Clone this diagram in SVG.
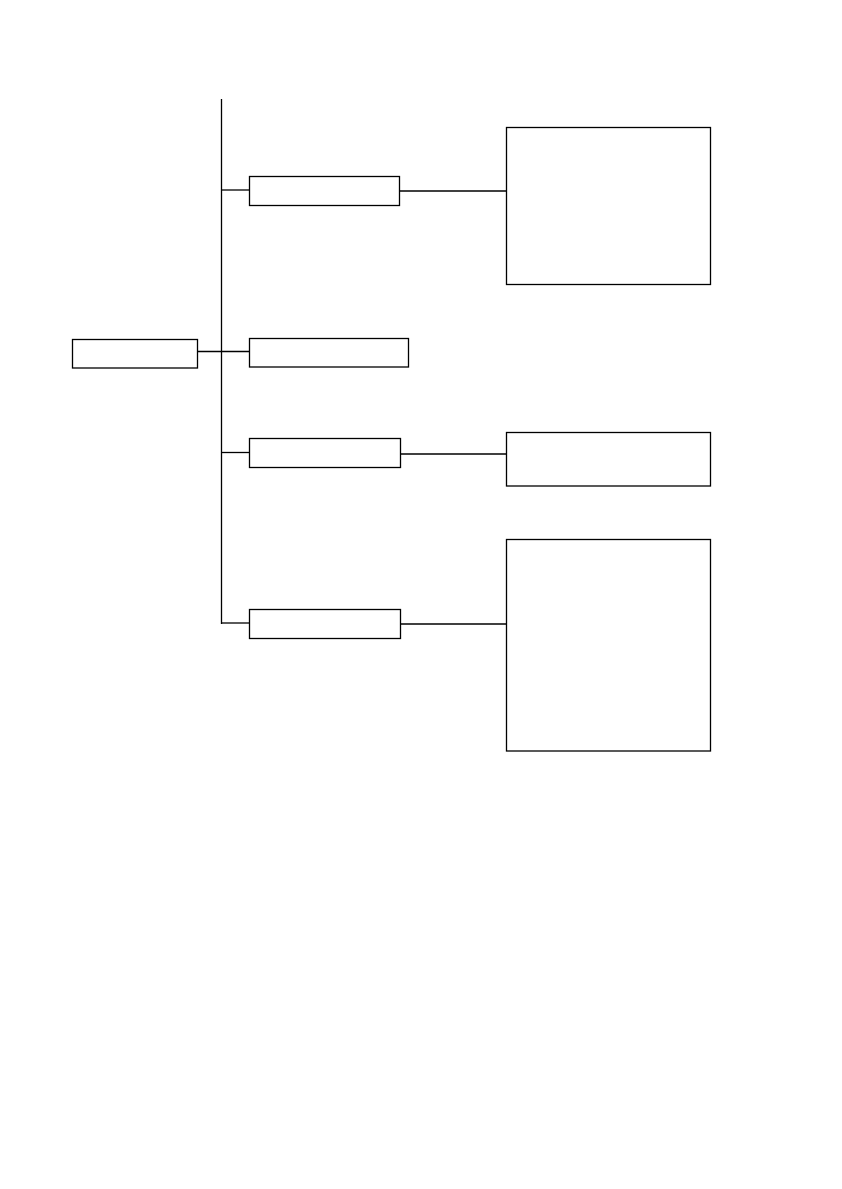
<svg xmlns="http://www.w3.org/2000/svg" width="842" height="1189" viewBox="0 0 842 1189">
<style>
.n{fill:#fff;stroke:#000;stroke-width:1.3}
.c{fill:none;stroke:#000;stroke-width:1.3}
</style>
<rect width="842" height="1189" fill="#fff"/>
<g id="connectors">
<path class="c" d="M221.5 99V624"/>
<path class="c" d="M197.5 351.5H249.5"/>
<path class="c" d="M221.5 190H249.5"/>
<path class="c" d="M221.5 452.5H249.5"/>
<path class="c" d="M221.5 623H249.5"/>
<path class="c" d="M399.5 191H506.5"/>
<path class="c" d="M400.5 454H506.5"/>
<path class="c" d="M400.5 624H506.5"/>
</g>
<g id="root"><rect class="n" x="72.5" y="339.5" width="125" height="28.5"/></g>
<g id="branch1"><rect class="n" x="249.5" y="176.5" width="150" height="29"/></g>
<g id="branch2"><rect class="n" x="249.5" y="338.5" width="159" height="28.5"/></g>
<g id="branch3"><rect class="n" x="249.5" y="438.5" width="151" height="29"/></g>
<g id="branch4"><rect class="n" x="249.5" y="609.5" width="151" height="29"/></g>
<g id="detail1"><rect class="n" x="506.5" y="127.5" width="204" height="157"/></g>
<g id="detail3"><rect class="n" x="506.5" y="432.5" width="204" height="53.5"/></g>
<g id="detail4"><rect class="n" x="506.5" y="539.5" width="204" height="211.5"/></g>
</svg>
